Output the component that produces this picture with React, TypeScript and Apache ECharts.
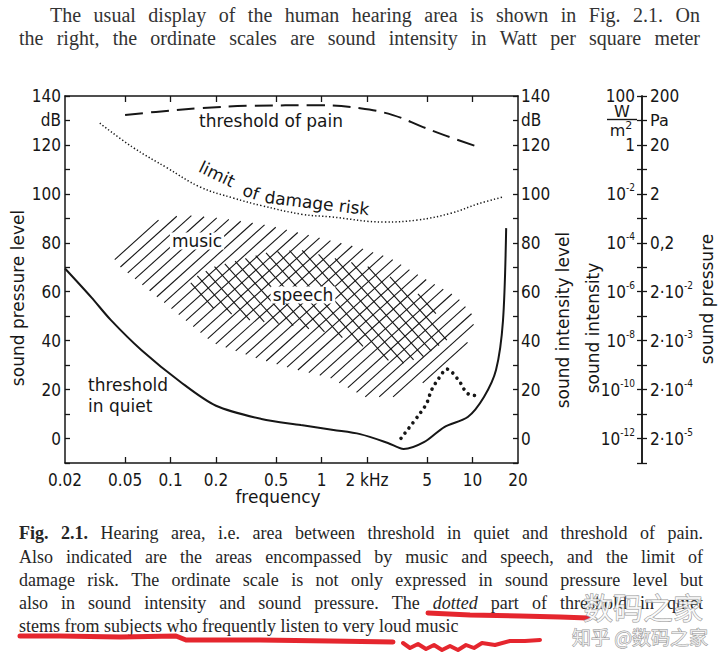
import React, { useEffect, useRef } from "react";
import * as echarts from "echarts";

// ---------------- data ----------------
const freqTicks = [0.02, 0.05, 0.1, 0.2, 0.5, 1, 2, 5, 10, 20];
const freqTickLabels = ["0.02", "0.05", "0.1", "0.2", "0.5", "1", "2 kHz", "5", "10", "20"];

const quietFreq = [0.02, 0.03, 0.04, 0.064, 0.117, 0.2, 0.4, 0.73, 1.2, 1.8, 2.75, 3.5, 4.8, 6.5, 9.3, 11.9, 14.3, 15.9, 16.7];
const quietDb = [69.5, 57.6, 48.6, 36.2, 23, 13.4, 8, 5.5, 3.5, 1.8, -1.8, -4.3, -1.4, 4.7, 8.8, 17, 28, 48, 86];

const quietDottedFreq = [3.36, 4.49, 4.97, 5.36, 6.09, 6.75, 8.05, 9.38, 11.2];
const quietDottedDb = [0.1, 10.3, 14.4, 19.9, 25.3, 28.4, 24, 18.2, 17.5];

const painFreq = [0.05, 0.08, 0.157, 0.336, 0.98, 1.8, 2.97, 4.7, 6.78, 10.9];
const painDb = [132.2, 133.5, 135, 136, 136.2, 135, 132.2, 127.3, 123.6, 119.2];

const damageFreq = [0.034, 0.056, 0.095, 0.157, 0.26, 0.4, 0.75, 1.15, 2.6, 4.3, 7.2, 11, 16.1];
const damageDb = [128.9, 119.1, 110.6, 102.8, 98.3, 95.2, 91.6, 90.6, 88.5, 89.3, 92.1, 96, 98.8];

const musicFreq = [0.041, 0.0499, 0.0731, 0.121, 0.212, 0.435, 0.72, 1.8, 2.84, 4.99, 7.89, 10.4, 9.62, 6.78, 4.49, 3.06, 1.94, 1.14, 0.618, 0.352, 0.191, 0.11, 0.0628, 0.0449];
const musicDb = [75, 81.2, 88.5, 91.4, 90.1, 87.2, 84, 77.9, 73.8, 64.8, 57.9, 49.3, 40.3, 30.9, 21.9, 17, 17, 24.8, 28.8, 33.3, 39.1, 51.3, 63.6, 70.9];

const speechFreq = [0.135, 0.191, 0.302, 0.456, 0.72, 1.19, 2.09, 3.85, 5.47, 6.78, 4.7, 3.16, 1.72, 1.14, 0.618, 0.336, 0.182, 0.141];
const speechDb = [64.8, 70.1, 73.4, 76.3, 77.1, 73.8, 70.1, 62, 53.8, 40.3, 33.3, 30, 39, 43.1, 46.4, 48.4, 53.8, 58.7];

const intensityLevels = [140, 120, 100, 80, 60, 40, 20, 0];
const intensityLabels = ["{n|100}", "{n|1}", "{n|10}{s|-2}", "{n|10}{s|-4}", "{n|10}{s|-6}", "{n|10}{s|-8}", "{n|10}{s|-10}", "{n|10}{s|-12}"];
const pressureLevels = [140, 130, 120, 100, 80, 60, 40, 20, 0];
const pressureLabels = ["{n|200}", "{t|Pa}", "{n|20}", "{n|2}", "{n|0,2}", "{n|2·10}{s|-2}", "{n|2·10}{s|-3}", "{n|2·10}{s|-4}", "{n|2·10}{s|-5}"];

const topLines = [
  "The usual display of the human hearing area is shown in Fig. 2.1. On",
  "the right, the ordinate scales are sound intensity in Watt per square meter",
];
const captionLines = [
  "*Fig.* *2.1.* Hearing area, i.e. area between threshold in quiet and threshold of pain.",
  "Also indicated are the areas encompassed by music and speech, and the limit of",
  "damage risk. The ordinate scale is not only expressed in sound pressure level but",
  "also in sound intensity and sound pressure. The _dotted_ part of threshold in quiet",
  "stems from subjects who frequently listen to very loud music",
];

// ---------------- styles ----------------
const INK = "#161616";
const FONT_TXT = '"DejaVu Sans", sans-serif';
const FONT_NUM = '"Liberation Sans Narrow", "DejaVu Sans Condensed", sans-serif';
const SERIF = '"Liberation Serif", "DejaVu Serif", serif';

const lg = (f: number) => Math.log10(f);
const pairs = (fs: number[], ds: number[]) => fs.map((f, i) => [lg(f), ds[i]]);

function hatch(poly: number[][], angleDeg: number, spacing: number, phase: number) {
  const a = (angleDeg * Math.PI) / 180;
  const d = [Math.cos(a), -Math.sin(a)];
  const n = [Math.sin(a), Math.cos(a)];
  const proj = (p: number[], v: number[]) => p[0] * v[0] + p[1] * v[1];
  const cs = poly.map((p) => proj(p, n));
  const cmin = Math.min(...cs);
  const cmax = Math.max(...cs);
  const out: any[] = [];
  for (let c = Math.ceil(cmin / spacing) * spacing + phase; c < cmax; c += spacing) {
    const pts: number[][] = [];
    for (let i = 0; i < poly.length; i++) {
      const p = poly[i];
      const q = poly[(i + 1) % poly.length];
      const pa = proj(p, n) - c;
      const qa = proj(q, n) - c;
      if (pa < 0 !== qa < 0) {
        const t = pa / (pa - qa);
        pts.push([p[0] + t * (q[0] - p[0]), p[1] + t * (q[1] - p[1])]);
      }
    }
    pts.sort((u, v) => proj(u, d) - proj(v, d));
    for (let k = 0; k + 1 < pts.length; k += 2) {
      out.push({
        type: "line",
        shape: { x1: pts[k][0], y1: pts[k][1], x2: pts[k + 1][0], y2: pts[k + 1][1] },
        style: { stroke: INK, lineWidth: 1.1 },
      });
    }
  }
  return out;
}

function textLines(lines: string[], x0: number, x1: number, ys: number[], size: number, justifyAll: boolean[], color: string) {
  const canvas = document.createElement("canvas");
  const ctx = canvas.getContext("2d")!;
  const fontOf = (s: string) => `${s === "b" ? "bold " : ""}${s === "i" ? "italic " : ""}${size}px ${SERIF}`;
  const els: any[] = [];
  lines.forEach((line, li) => {
    const words = line.split(" ").map((w) => {
      if (w.startsWith("*")) return { t: w.replace(/\*/g, ""), s: "b" };
      if (w.startsWith("_")) return { t: w.replace(/_/g, ""), s: "i" };
      return { t: w, s: "n" };
    });
    const widths = words.map((w) => {
      ctx.font = fontOf(w.s);
      return ctx.measureText(w.t).width;
    });
    ctx.font = fontOf("n");
    const space = ctx.measureText(" ").width;
    const total = widths.reduce((a, b) => a + b, 0);
    const gap = justifyAll[li] ? (x1 - x0 - total) / (words.length - 1) : space;
    let x = x0;
    words.forEach((w, i) => {
      els.push({
        type: "text",
        x,
        y: ys[li],
        silent: true,
        style: { text: w.t, font: fontOf(w.s), fill: color, textAlign: "left", textVerticalAlign: "middle" },
      });
      x += widths[i] + gap;
    });
  });
  return els;
}

export default function App() {
  const ref = useRef<HTMLDivElement>(null);
  useEffect(() => {
    if (!ref.current) return;
    const chart = echarts.init(ref.current, null, { renderer: "svg", width: 720, height: 666 });

    const numRich = {
      n: { fontSize: 17, fontFamily: FONT_NUM, color: INK, lineHeight: 22, verticalAlign: "middle" },
      s: { fontSize: 10, fontFamily: FONT_NUM, color: INK, lineHeight: 22, verticalAlign: "top" },
      t: { fontSize: 16, fontFamily: FONT_TXT, color: INK, lineHeight: 22 },
    };
    const dbFmt = (v: number) => (Math.abs(v - 130) < 0.01 ? "dB" : v >= 0 && Math.round(v) % 20 === 0 ? String(Math.round(v)) : "");
    const lookup = (levels: number[], labels: string[]) => (v: number) => {
      const i = levels.findIndex((l) => Math.abs(l - v) < 0.01);
      return i >= 0 ? labels[i] : "";
    };
    const baseY = {
      type: "value",
      min: -10,
      max: 140,
      interval: 10,
      splitLine: { show: false },
      axisLine: { show: true, onZero: false, lineStyle: { color: INK, width: 1.5 } },
      axisTick: { show: true, inside: true, length: 5, lineStyle: { color: INK, width: 1.3 } },
    };
    const xTicksInner = freqTicks.slice(1, -1).map(lg);
    const baseX = {
      type: "value",
      min: lg(0.02),
      max: lg(20),
      splitLine: { show: false },
      axisLine: { show: true, onZero: false, lineStyle: { color: INK, width: 1.5 } },
      axisTick: { show: true, inside: true, length: 6, customValues: xTicksInner, lineStyle: { color: INK, width: 1.3 } },
    };

    const graphic: any[] = [];
    const txt = (text: string, x: number, y: number, opts: any = {}) =>
      graphic.push({
        type: "text",
        x,
        y,
        rotation: opts.rotation || 0,
        silent: true,
        z: 100,
        style: {
          text,
          font: `${opts.size || 17}px ${opts.family || FONT_TXT}`,
          fill: INK,
          textAlign: opts.align || "center",
          textVerticalAlign: "middle",
          backgroundColor: opts.bg,
          padding: opts.pad,
          rich: opts.rich,
        },
      });

    // in-plot labels
    txt("threshold of pain", 271, 121);
    txt("limit", 217, 174, { rotation: -0.45 });
    txt("of", 251, 192, { rotation: -0.3 });
    txt("damage risk", 317, 203, { rotation: -0.12 });
    txt("music", 197, 241, { bg: "#fff", pad: [0, 2] });
    txt("speech", 303, 295, { bg: "#fff", pad: [0, 2] });
    txt("threshold", 88, 385, { align: "left" });
    txt("in quiet", 88, 406, { align: "left" });
    // axis titles
    txt("frequency", 278, 497);
    txt("sound pressure level", 18, 298, { rotation: Math.PI / 2 });
    txt("sound intensity level", 563, 320, { rotation: Math.PI / 2 });
    txt("sound intensity", 593, 328, { rotation: Math.PI / 2 });
    txt("sound pressure", 707, 299, { rotation: Math.PI / 2 });
    // W / m^2 unit
    txt("W", 622, 111, { size: 16 });
    graphic.push({ type: "line", silent: true, shape: { x1: 607, y1: 119.5, x2: 637, y2: 119.5 }, style: { stroke: INK, lineWidth: 1.4 } });
    txt("{a|m}{b|2}", 621, 130, { rich: { a: { fontSize: 16, fontFamily: FONT_TXT, lineHeight: 20, verticalAlign: "middle" }, b: { fontSize: 11, fontFamily: FONT_TXT, lineHeight: 20, verticalAlign: "top" } } });

    // page text
    graphic.push(...textLines(topLines.slice(0, 1), 50, 700, [15], 20, [true], "#333"));
    graphic.push(...textLines(topLines.slice(1), 19, 700, [38], 20, [true], "#333"));
    graphic.push(...textLines(captionLines, 19, 703, [533, 557, 580, 603, 626], 18, [true, true, true, true, false], "#262626"));

    // red hand-drawn underlines
    const red = (points: number[][], w: number) =>
      graphic.push({ type: "polyline", silent: true, z: 120, shape: { points }, style: { stroke: "#e3141c", lineWidth: w, lineCap: "round", lineJoin: "round", fill: null, opacity: 0.92 } });
    red([[428, 613], [470, 615], [520, 616], [560, 617], [588, 618]], 5);
    red([[20, 636], [60, 636], [120, 637], [176, 636], [186, 640], [260, 640], [330, 641], [393, 642]], 5);
    red([[403, 643], [410, 648], [418, 644], [426, 649], [434, 645], [442, 650], [450, 646], [458, 650], [466, 645], [474, 648], [482, 643], [495, 645], [510, 641], [525, 641], [540, 640]], 4);

    // watermark
    graphic.push({ type: "text", x: 643, y: 606, silent: true, z: 130, style: { text: "数码之家", font: '30px "Noto Sans CJK SC"', fill: "rgba(255,255,255,0.75)", stroke: "rgba(120,120,120,0.8)", lineWidth: 1, textAlign: "center", textVerticalAlign: "middle" } });
    graphic.push({ type: "text", x: 640, y: 636, silent: true, z: 130, style: { text: "知乎 @数码之家", font: '19px "Noto Sans CJK SC"', fill: "rgba(255,255,255,0.75)", stroke: "rgba(120,120,120,0.8)", lineWidth: 1, textAlign: "center", textVerticalAlign: "middle" } });

    const option: any = {
      animation: false,
      backgroundColor: "#fff",
      grid: { left: 65, top: 96, width: 453, height: 367, containLabel: false },
      xAxis: [
        {
          ...baseX,
          position: "bottom",
          axisLabel: {
            show: true,
            customValues: freqTicks.map(lg),
            margin: 8,
            fontSize: 17,
            fontFamily: FONT_NUM,
            color: INK,
            formatter: (v: number) => {
              let bi = 0;
              freqTicks.forEach((f, i) => {
                if (Math.abs(lg(f) - v) < Math.abs(lg(freqTicks[bi]) - v)) bi = i;
              });
              return freqTickLabels[bi];
            },
          },
        },
        { ...baseX, position: "top", axisLabel: { show: false } },
      ],
      yAxis: [
        { ...baseY, position: "left", axisLabel: { show: true, margin: 4, fontSize: 17, fontFamily: FONT_NUM, color: INK, formatter: dbFmt } },
        { ...baseY, position: "right", axisLabel: { show: true, margin: 3, fontSize: 17, fontFamily: FONT_NUM, color: INK, formatter: dbFmt } },
        {
          ...baseY,
          position: "right",
          offset: 124,
          axisTick: { show: true, inside: false, length: 5, lineStyle: { color: INK, width: 1.3 } },
          axisLabel: { show: true, inside: false, margin: 8, formatter: lookup(pressureLevels, pressureLabels), rich: numRich },
        },
        {
          ...baseY,
          position: "right",
          offset: 124,
          axisTick: { show: true, inside: true, length: 5, lineStyle: { color: INK, width: 1.3 } },
          axisLabel: { show: true, inside: true, margin: 7, formatter: lookup(intensityLevels, intensityLabels), rich: numRich },
        },
      ],
      series: [
        {
          type: "custom",
          xAxisIndex: 0,
          yAxisIndex: 0,
          silent: true,
          z: 1,
          data: [[0, 0]],
          renderItem: (_p: any, api: any) => {
            const music = musicFreq.map((f, i) => api.coord([lg(f), musicDb[i]]));
            const speech = speechFreq.map((f, i) => api.coord([lg(f), speechDb[i]]));
            return { type: "group", children: [...hatch(music, 42, 9.3, 0), ...hatch(speech, 132, 9.5, 0)] };
          },
        },
        { type: "line", data: pairs(quietFreq, quietDb), smooth: 0.3, symbol: "none", silent: true, z: 3, lineStyle: { color: INK, width: 2 } },
        { type: "line", data: pairs(quietDottedFreq, quietDottedDb), smooth: 0.35, symbol: "none", silent: true, z: 3, lineStyle: { color: INK, width: 3.6, type: [0.01, 6.5], cap: "round" } },
        { type: "line", data: pairs(painFreq, painDb), smooth: 0.4, symbol: "none", silent: true, z: 3, lineStyle: { color: INK, width: 2, type: [18, 8] } },
        { type: "line", data: pairs(damageFreq, damageDb), smooth: 0.4, symbol: "none", silent: true, z: 3, lineStyle: { color: INK, width: 1.5, type: [1.3, 2.2] } },
      ],
      graphic,
    };
    chart.setOption(option);
    return () => chart.dispose();
  }, []);
  return <div ref={ref} style={{ position: "absolute", left: 0, top: 0, width: 720, height: 666, background: "#fff" }} />;
}
